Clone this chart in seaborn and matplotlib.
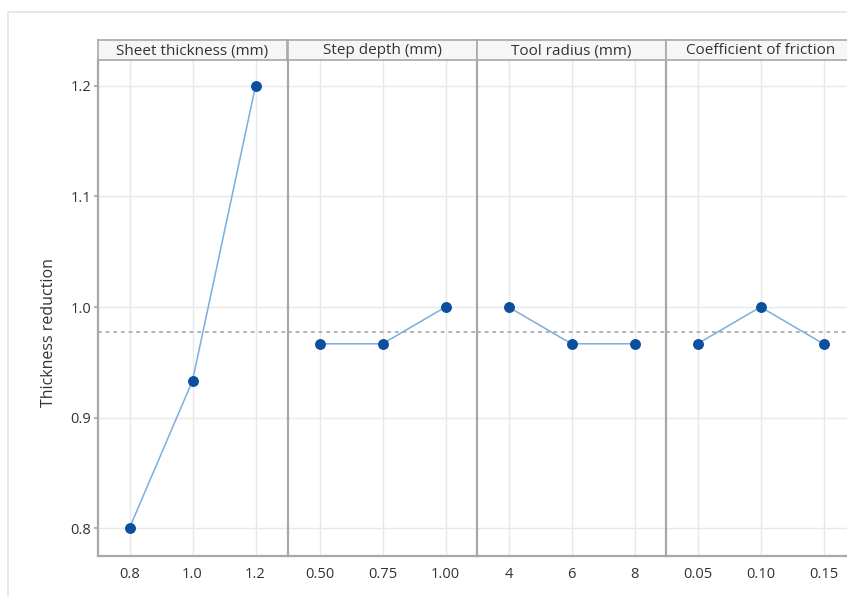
import matplotlib
matplotlib.use("Agg")
import matplotlib.pyplot as plt
from matplotlib.patches import Rectangle
import seaborn as sns
import pandas as pd

# Main effects of each process factor on thickness reduction
factors = ["Sheet thickness (mm)", "Step depth (mm)", "Tool radius (mm)", "Coefficient of friction"]
sheet_levels = ["0.8", "1.0", "1.2"]
sheet_means = [0.800, 0.9333, 1.200]
step_levels = ["0.50", "0.75", "1.00"]
step_means = [0.9667, 0.9667, 1.000]
radius_levels = ["4", "6", "8"]
radius_means = [1.000, 0.9667, 0.9667]
friction_levels = ["0.05", "0.10", "0.15"]
friction_means = [0.9667, 1.000, 0.9667]
y_ticks = [0.8, 0.9, 1.0, 1.1, 1.2]
y_label = "Thickness reduction"

levels = [sheet_levels, step_levels, radius_levels, friction_levels]
means = [sheet_means, step_means, radius_means, friction_means]

df = pd.concat(
    [pd.DataFrame({"factor": f, "level": lv, "value": mv}) for f, lv, mv in zip(factors, levels, means)],
    ignore_index=True,
)
grand_mean = df[df["factor"] == factors[0]]["value"].mean()

sns.set_theme(style="white")
plt.rcParams["font.family"] = ["Open Sans", "DejaVu Sans"]

W, H = 847, 596
fig = plt.figure(figsize=(W / 100, H / 100), dpi=100)

# faint outer frame
fig.patches.append(Rectangle((8 / W, -0.2), 1.2, 1.2 - 12 / H, transform=fig.transFigure,
                             fill=False, edgecolor="#e4e4e4", linewidth=1.2, zorder=0))

line_color = "#7aaede"
marker_color = "#0b4f9e"
frame_color = "#a8a8a8"
grid_color = "#e8e8e8"
text_color = "#333333"

panel_left = [98, 288, 477, 666]
panel_w = 189
top_px, bottom_px, strip_top_px = 60, 556, 40
ylo, yhi = 0.7747, 1.2235

for i, (fac, lv) in enumerate(zip(factors, levels)):
    x0 = panel_left[i] / W
    ax = fig.add_axes([x0, 1 - bottom_px / H, panel_w / W, (bottom_px - top_px) / H])
    sub = df[df["factor"] == fac]
    sns.pointplot(data=sub, x="level", y="value", order=lv, ax=ax, color=line_color,
                  marker="o", markersize=7, linewidth=1.1, errorbar=None)
    for ln in ax.lines:
        ln.set_markerfacecolor(marker_color)
        ln.set_markeredgecolor(marker_color)
    ax.axhline(grand_mean, color="#a0a0a0", linestyle=(0, (2.5, 2.5)), linewidth=1.1, zorder=1)
    ax.set_xlim(-0.5, len(lv) - 0.5)
    ax.set_ylim(ylo, yhi)
    ax.set_yticks(y_ticks)
    ax.grid(True, color=grid_color, linewidth=1)
    ax.set_axisbelow(True)
    ax.set_xlabel("")
    ax.set_ylabel("")
    for s in ["left", "bottom"]:
        ax.spines[s].set_color(frame_color)
        ax.spines[s].set_linewidth(1.6)
    ax.spines["top"].set_visible(False)
    ax.spines["right"].set_visible(False)
    ax.tick_params(axis="x", length=3, color=frame_color, labelsize=10.5, labelcolor=text_color, pad=5)
    if i == 0:
        ax.tick_params(axis="y", length=3, color=frame_color, labelsize=10.5, labelcolor=text_color,
                       left=True, pad=2)
        ax.set_yticklabels([f"{t:.1f}" for t in y_ticks])
        ax.set_ylabel(y_label, fontsize=11.5, color=text_color)
        ax.yaxis.set_label_coords((57 - 98) / panel_w, 0.45)
    else:
        ax.tick_params(axis="y", left=False, labelleft=False)
    # header strip
    sax = fig.add_axes([x0, 1 - top_px / H, panel_w / W, (top_px - strip_top_px) / H])
    sax.set_facecolor("#f6f6f6")
    sax.set_xticks([])
    sax.set_yticks([])
    for s in sax.spines.values():
        s.set_color(frame_color)
        s.set_linewidth(1.2)
    sax.text(0.5, 0.45, fac, ha="center", va="center", fontsize=11, color=text_color,
             transform=sax.transAxes)

fig.savefig("out.png", dpi=100)
